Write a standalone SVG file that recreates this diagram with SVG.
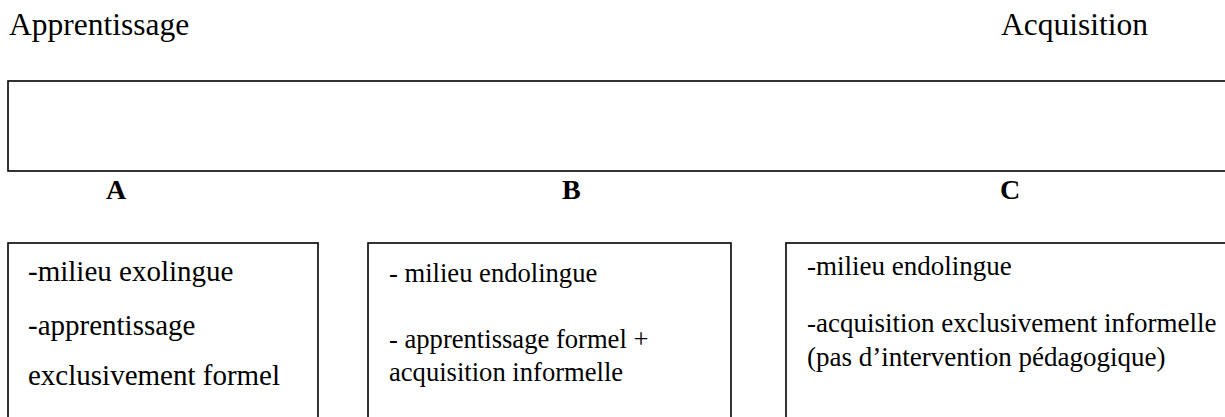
<svg xmlns="http://www.w3.org/2000/svg" width="1225" height="417" viewBox="0 0 1225 417">
<style>
.box{fill:#fff;stroke:#000;stroke-width:1.6}
.t{font-family:"Liberation Serif","Times New Roman",serif;fill:#000}
.h{font-size:31.5px}
.lbl{font-size:28px;font-weight:bold}
</style>
<rect width="1225" height="417" fill="#fff"/>
<g id="header">
<text class="t h" x="9" y="35">Apprentissage</text>
<text class="t h" x="1001" y="35">Acquisition</text>
</g>
<g id="scale">
<rect class="box" x="8" y="81" width="1230" height="90"/>
</g>
<g id="labels">
<text class="t lbl" x="106" y="199">A</text>
<text class="t lbl" x="562" y="199">B</text>
<text class="t lbl" x="1000" y="199">C</text>
</g>
<g id="nodeA">
<rect class="box" x="8" y="243" width="310" height="190"/>
<text class="t" style="font-size:29px" x="28" y="281">-milieu exolingue</text>
<text class="t" style="font-size:29px" x="28" y="335">-apprentissage</text>
<text class="t" style="font-size:29px" x="28" y="385">exclusivement formel</text>
</g>
<g id="nodeB">
<rect class="box" x="368" y="243" width="363" height="190"/>
<text class="t" style="font-size:26.6px" x="389" y="282">- milieu endolingue</text>
<text class="t" style="font-size:26.6px" x="389" y="348">- apprentissage formel +</text>
<text class="t" style="font-size:26.6px" x="389" y="381">acquisition informelle</text>
</g>
<g id="nodeC">
<rect class="box" x="786" y="243" width="460" height="190"/>
<text class="t" style="font-size:27px" x="807" y="275">-milieu endolingue</text>
<text class="t" style="font-size:27px" x="807" y="332">-acquisition exclusivement informelle</text>
<text class="t" style="font-size:27px" x="807" y="366">(pas d’intervention pédagogique)</text>
</g>
<g id="connectors"></g>
</svg>
